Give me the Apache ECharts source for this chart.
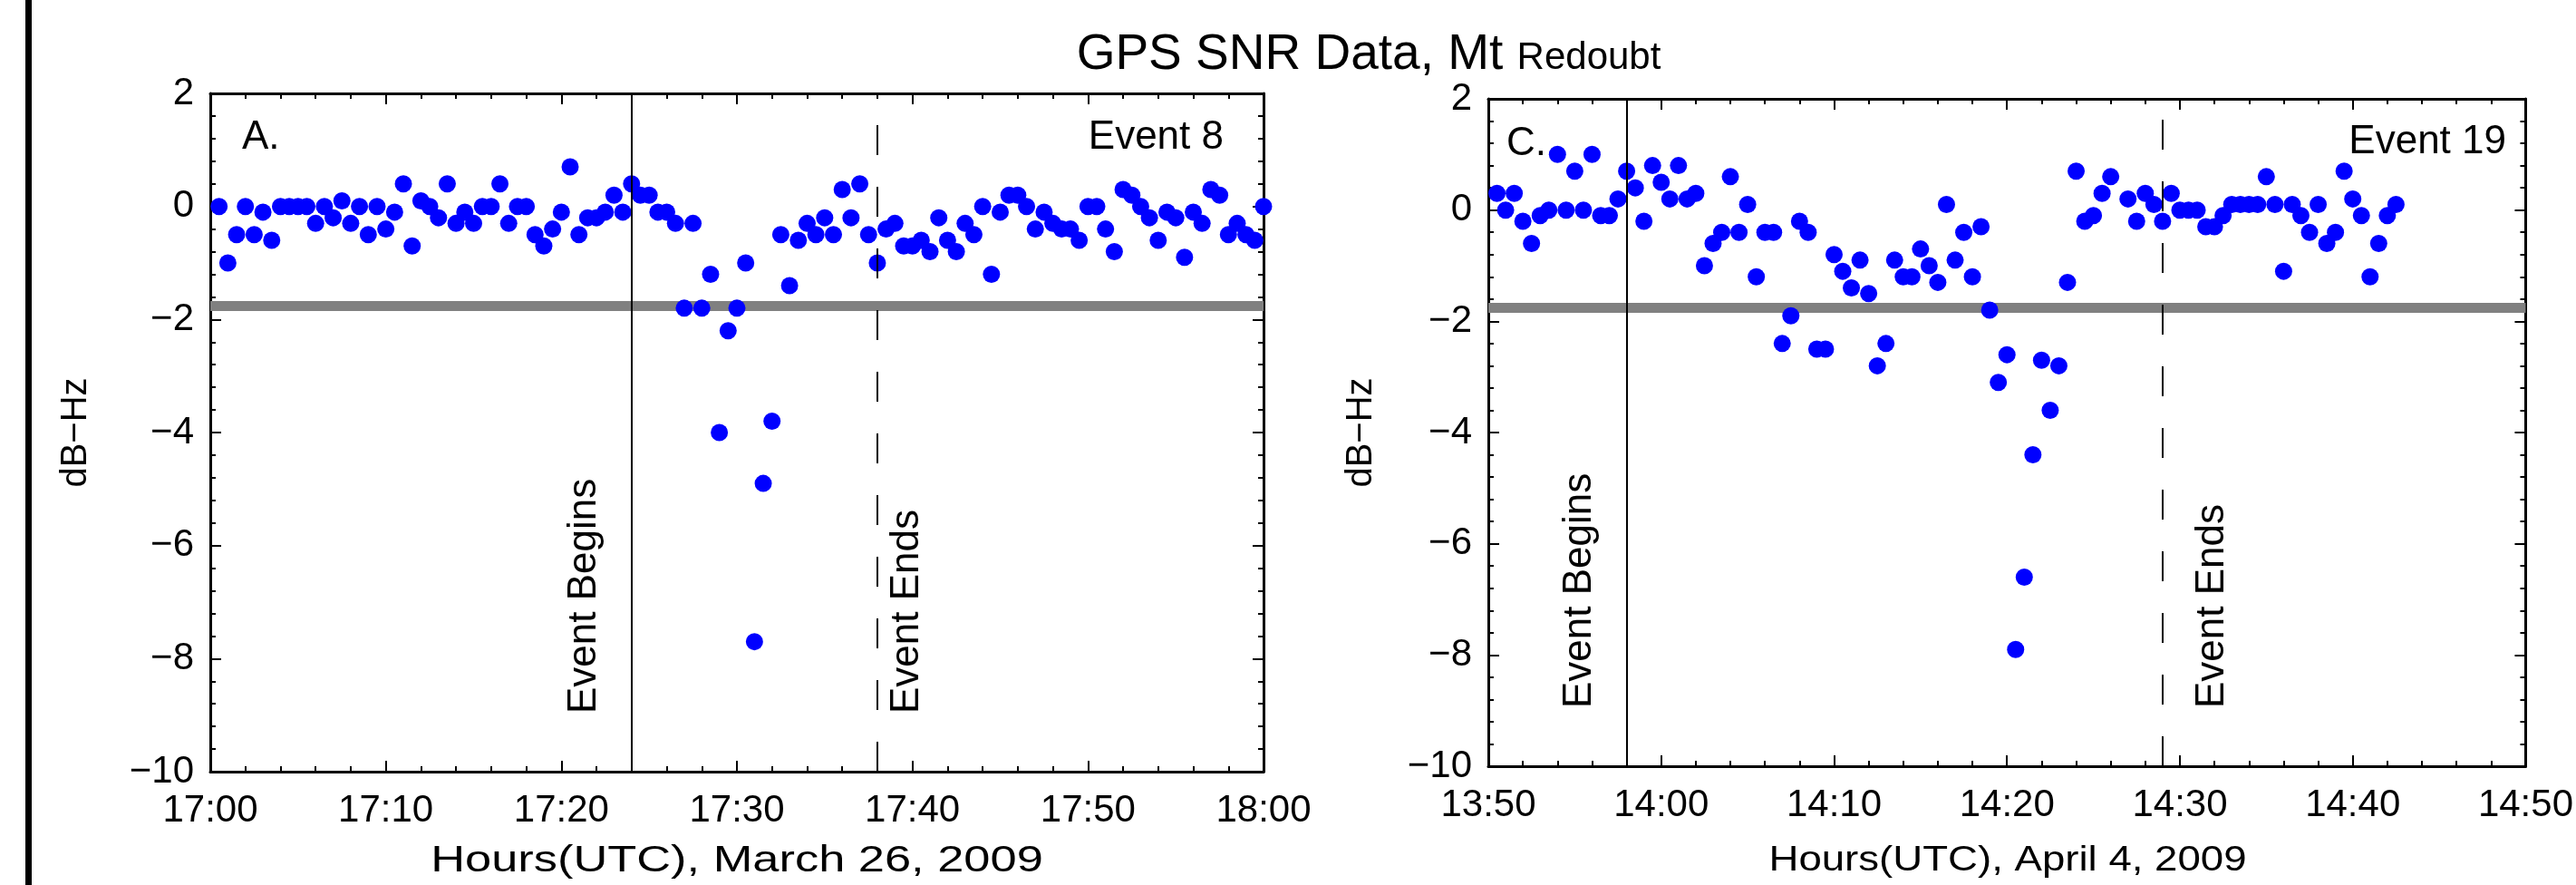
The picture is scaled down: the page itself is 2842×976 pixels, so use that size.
<!DOCTYPE html>
<html>
<head>
<meta charset="utf-8">
<title>GPS SNR Data, Mt Redoubt</title>
<script src="https://cdn.jsdelivr.net/npm/echarts@6/dist/echarts.min.js"></script>
<style>
html, body { margin: 0; padding: 0; background: #ffffff; }
#chart { width: 2842px; height: 976px; }
</style>
</head>
<body>
<div id="chart"></div>
<script>
// panel A: minutes after 17:00 UTC, March 26 2009
var eventAMinutes = [
  0.5, 1, 1.5, 2, 2.5, 3, 3.5, 4, 4.5, 5, 5.5, 6, 6.5, 7, 7.5, 8, 8.5, 9, 9.5, 10,
  10.5, 11, 11.5, 12, 12.5, 13, 13.5, 14, 14.5, 15, 15.5, 16, 16.5, 17, 17.5, 18, 18.5, 19, 19.5, 20,
  20.5, 21, 21.5, 22, 22.5, 23, 23.5, 24, 24.5, 25, 25.5, 26, 26.5, 27, 27.5, 28, 28.5, 29, 29.5, 30,
  30.5, 31, 31.5, 32, 32.5, 33, 33.5, 34, 34.5, 35, 35.5, 36, 36.5, 37, 37.5, 38, 38.5, 39, 39.5, 40,
  40.5, 41, 41.5, 42, 42.5, 43, 43.5, 44, 44.5, 45, 45.5, 46, 46.5, 47, 47.5, 48, 48.5, 49, 49.5, 50,
  50.5, 51, 51.5, 52, 52.5, 53, 53.5, 54, 54.5, 55, 55.5, 56, 56.5, 57, 57.5, 58, 58.5, 59, 59.5, 60
];
var eventASnr = [
  0, -1.0, -0.5, 0, -0.5, -0.1, -0.6, 0, 0, 0, 0, -0.3, 0, -0.2, 0.1, -0.3, 0, -0.5, 0, -0.4,
  -0.1, 0.4, -0.7, 0.1, 0, -0.2, 0.4, -0.3, -0.1, -0.3, 0, 0, 0.4, -0.3, 0, 0, -0.5, -0.7, -0.4, -0.1,
  0.7, -0.5, -0.2, -0.2, -0.1, 0.2, -0.1, 0.4, 0.2, 0.2, -0.1, -0.1, -0.3, -1.8, -0.3, -1.8, -1.2, -4.0, -2.2, -1.8,
  -1.0, -7.7, -4.9, -3.8, -0.5, -1.4, -0.6, -0.3, -0.5, -0.2, -0.5, 0.3, -0.2, 0.4, -0.5, -1.0, -0.4, -0.3, -0.7, -0.7,
  -0.6, -0.8, -0.2, -0.6, -0.8, -0.3, -0.5, 0, -1.2, -0.1, 0.2, 0.2, 0, -0.4, -0.1, -0.3, -0.4, -0.4, -0.6, 0,
  0, -0.4, -0.8, 0.3, 0.2, 0, -0.2, -0.6, -0.1, -0.2, -0.9, -0.1, -0.3, 0.3, 0.2, -0.5, -0.3, -0.5, -0.6, 0
];

// panel C: minutes after 13:50 UTC, April 4 2009
var eventCMinutes = [
  0.5, 1, 1.5, 2, 2.5, 3, 3.5, 4, 4.5, 5, 5.5, 6, 6.5, 7, 7.5, 8, 8.5, 9, 9.5, 10,
  10.5, 11, 11.5, 12, 12.5, 13, 13.5, 14, 14.5, 15, 15.5, 16, 16.5, 17, 17.5, 18, 18.5, 19, 19.5, 20,
  20.5, 21, 21.5, 22, 22.5, 23, 23.5, 24, 24.5, 25, 25.5, 26, 26.5, 27, 27.5, 28, 28.5, 29, 29.5, 30,
  30.5, 31, 31.5, 32, 32.5, 33, 33.5, 34, 34.5, 35, 35.5, 36, 37, 37.5, 38, 38.5, 39, 39.5, 40,
  40.5, 41, 41.5, 42, 42.5, 43, 43.5, 44, 44.5, 45, 45.5, 46, 46.5, 47, 47.5, 48, 48.5, 49, 49.5, 50,
  50.5, 51, 51.5, 52, 52.5
];
var eventCSnr = [
  0.3, 0, 0.3, -0.2, -0.6, -0.1, 0, 1.0, 0, 0.7, 0, 1.0, -0.1, -0.1, 0.2, 0.7, 0.4, -0.2, 0.8, 0.5,
  0.2, 0.8, 0.2, 0.3, -1.0, -0.6, -0.4, 0.6, -0.4, 0.1, -1.2, -0.4, -0.4, -2.4, -1.9, -0.2, -0.4, -2.5, -2.5, -0.8,
  -1.1, -1.4, -0.9, -1.5, -2.8, -2.4, -0.9, -1.2, -1.2, -0.7, -1.0, -1.3, 0.1, -0.9, -0.4, -1.2, -0.3, -1.8, -3.1, -2.6,
  -7.9, -6.6, -4.4, -2.7, -3.6, -2.8, -1.3, 0.7, -0.2, -0.1, 0.3, 0.6, 0.2, -0.2, 0.3, 0.1, -0.2, 0.3, 0,
  0, 0, -0.3, -0.3, -0.1, 0.1, 0.1, 0.1, 0.1, 0.6, 0.1, -1.1, 0.1, -0.1, -0.4, 0.1, -0.6, -0.4, 0.7, 0.2,
  -0.1, -1.2, -0.6, -0.1, 0.1
];

var ticksA = ['17:00', '17:10', '17:20', '17:30', '17:40', '17:50', '18:00'];
var ticksC = ['13:50', '14:00', '14:10', '14:20', '14:30', '14:40', '14:50'];
var eventA = { begins: 24, ends: 38 };
var eventC = { begins: 8, ends: 39 };
var threshold = -1.75;

var FONT = '"Liberation Sans", Arial, sans-serif';

function pairs(xs, ys) {
  return xs.map(function (x, i) { return [x, ys[i]]; });
}

function xAxes(grid, labels) {
  var base = {
    gridIndex: grid, type: 'value', min: 0, max: 60, interval: 10,
    axisLine: { onZero: false, lineStyle: { color: '#000', width: 3 } },
    axisTick: { inside: true, length: 12, lineStyle: { color: '#000', width: 2 } },
    minorTick: { show: true, splitNumber: 5, length: 6, lineStyle: { color: '#000', width: 2 } },
    splitLine: { show: false }
  };
  return [
    Object.assign({}, base, {
      position: 'bottom',
      axisLabel: {
        margin: 22, fontSize: 42, fontFamily: FONT, color: '#000',
        formatter: function (v) { return labels[Math.round(v / 10)]; }
      }
    }),
    Object.assign({}, base, { position: 'top', axisLabel: { show: false } })
  ];
}

function yAxes(grid, nameGap) {
  var base = {
    gridIndex: grid, type: 'value', min: -10, max: 2, interval: 2,
    axisLine: { onZero: false, lineStyle: { color: '#000', width: 3 } },
    axisTick: { inside: true, length: 12, lineStyle: { color: '#000', width: 2 } },
    minorTick: { show: true, splitNumber: 5, length: 6, lineStyle: { color: '#000', width: 2 } },
    splitLine: { show: false }
  };
  return [
    Object.assign({}, base, {
      position: 'left',
      name: 'dB\u2212Hz', nameLocation: 'middle', nameGap: nameGap,
      nameTextStyle: { fontSize: 40, fontFamily: FONT, color: '#000' },
      axisLabel: {
        margin: 18, fontSize: 42, fontFamily: FONT, color: '#000',
        formatter: function (v) { return v < 0 ? '\u2212' + (-v) : String(v); }
      }
    }),
    Object.assign({}, base, { position: 'right', axisLabel: { show: false } })
  ];
}

function eventLines(ev, endGap) {
  var lbl = { fontSize: 44, fontFamily: FONT, color: '#000' };
  return {
    silent: true, symbol: 'none', animation: false, z: 6,
    data: [
      {
        xAxis: ev.begins,
        lineStyle: { color: '#000', width: 2, type: 'solid' },
        label: Object.assign({ formatter: 'Event Begins', position: 'insideStartTop', distance: [64, 30] }, lbl)
      },
      {
        xAxis: ev.ends,
        lineStyle: { color: '#000', width: 2, type: [33, 35] },
        label: Object.assign({ formatter: 'Event Ends', position: 'insideStartBottom', distance: [64, endGap] }, lbl)
      }
    ]
  };
}

function bandLine() {
  return {
    silent: true, symbol: 'none', animation: false, z: 1,
    label: { show: false },
    lineStyle: { color: '#808080', width: 11, type: 'solid' },
    data: [{ yAxis: threshold }]
  };
}

function plainText(text, x, y, size, align, scaleX) {
  return {
    type: 'text', x: x, y: y, scaleX: scaleX || 1,
    style: { text: text, fontSize: size, fontFamily: FONT, fill: '#000', align: align, verticalAlign: 'middle' }
  };
}

var chart = echarts.init(document.getElementById('chart'));
var xs = xAxes(0, ticksA).concat(xAxes(1, ticksC));
var ys = yAxes(0, 128).concat(yAxes(1, 120));

chart.setOption({
  animation: false,
  backgroundColor: '#ffffff',
  grid: [
    { left: 232, top: 103, width: 1162, height: 748 },
    { left: 1642, top: 109, width: 1147, height: 736 }
  ],
  xAxis: xs,
  yAxis: ys,
  series: [
    {
      type: 'scatter', xAxisIndex: 0, yAxisIndex: 0, z: 3,
      data: pairs(eventAMinutes, eventASnr),
      symbolSize: 19, itemStyle: { color: '#0000ff', opacity: 1 },
      markLine: eventLines(eventA, 11)
    },
    { type: 'line', xAxisIndex: 0, yAxisIndex: 0, data: [], markLine: bandLine() },
    {
      type: 'scatter', xAxisIndex: 2, yAxisIndex: 2, z: 3,
      data: pairs(eventCMinutes, eventCSnr),
      symbolSize: 19, itemStyle: { color: '#0000ff', opacity: 1 },
      markLine: eventLines(eventC, 33)
    },
    { type: 'line', xAxisIndex: 2, yAxisIndex: 2, data: [], markLine: bandLine() }
  ],
  graphic: [
    { type: 'rect', shape: { x: 28, y: 0, width: 7, height: 976 }, style: { fill: '#000' } },
    {
      type: 'text', x: 1510, y: 61,
      style: {
        text: '{a|GPS SNR Data, Mt }{b|Redoubt}',
        align: 'center', verticalAlign: 'middle',
        rich: {
          a: { fontSize: 55, fontFamily: FONT, fill: '#000', verticalAlign: 'bottom' },
          b: { fontSize: 42, fontFamily: FONT, fill: '#000', verticalAlign: 'bottom', padding: [0, 0, 3, 0] }
        }
      }
    },
    plainText('A.', 267, 152, 44, 'left'),
    plainText('Event 8', 1350, 152, 44, 'right'),
    plainText('C.', 1662, 159, 44, 'left'),
    plainText('Event 19', 2765, 157, 44, 'right'),
    plainText('Hours(UTC), March 26, 2009', 813, 950, 40, 'center', 1.31),
    plainText('Hours(UTC), April 4, 2009', 2215, 950, 38, 'center', 1.2)
  ]
});
</script>
</body>
</html>
